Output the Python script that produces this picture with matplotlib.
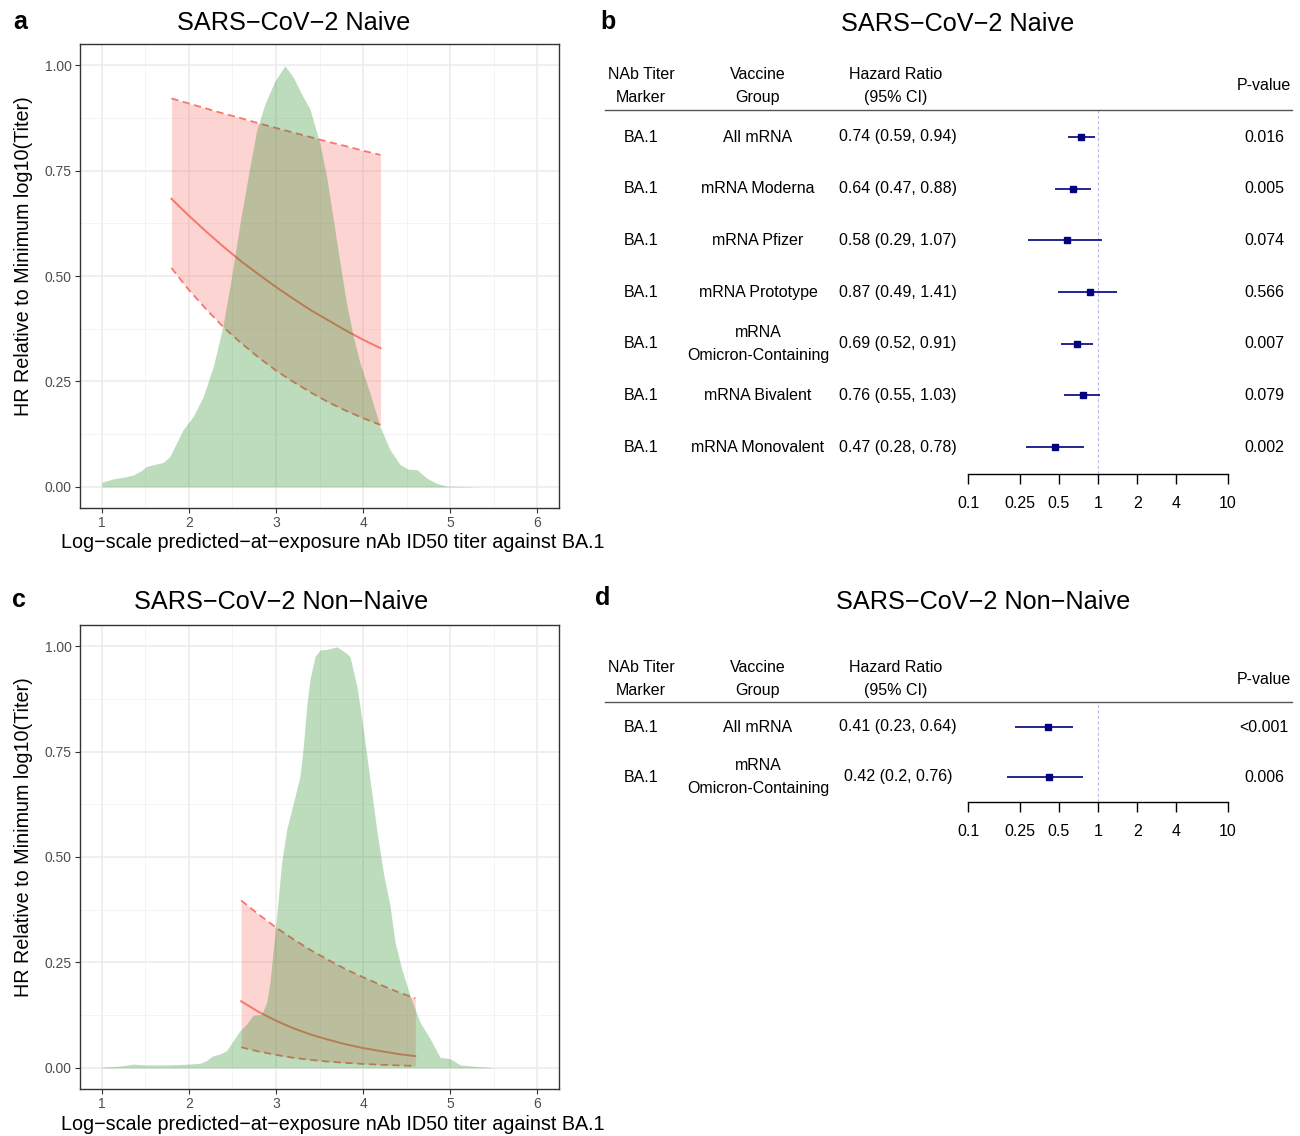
import numpy as np
import matplotlib
matplotlib.use("Agg")
import matplotlib.pyplot as plt
from matplotlib.ticker import FixedLocator, NullLocator
from matplotlib.transforms import blended_transform_factory

plt.rcParams['font.family'] = ['Liberation Sans', 'DejaVu Sans']

W, H = 1300, 1136
RED = "#F8766D"
GREEN = "forestgreen"
NAVY = "#000080"

# ---- panel a: naive, density of titers + HR curve ----
dens_a_x = [1.00, 1.13, 1.25, 1.36, 1.45, 1.51, 1.60, 1.705, 1.782, 1.858, 1.935,
            2.05, 2.165, 2.28, 2.39, 2.49, 2.586, 2.70, 2.778, 2.874, 2.99, 3.103,
            3.20, 3.295, 3.39, 3.506, 3.583, 3.66, 3.736, 3.81, 3.889, 3.966, 4.08,
            4.195, 4.31, 4.425, 4.52, 4.617, 4.73, 4.85, 4.96, 5.15, 5.34]
dens_a_y = [0.011, 0.019, 0.023, 0.028, 0.038, 0.048, 0.053, 0.058, 0.072, 0.104,
            0.136, 0.167, 0.214, 0.285, 0.380, 0.498, 0.624, 0.758, 0.845, 0.908,
            0.963, 0.998, 0.971, 0.931, 0.896, 0.813, 0.734, 0.632, 0.530, 0.435,
            0.356, 0.293, 0.222, 0.143, 0.088, 0.053, 0.042, 0.041, 0.021, 0.008,
            0.002, 0.001, 0.000]
band_a_x = [1.8, 2.0, 2.2, 2.4, 2.6, 2.8, 3.0, 3.2, 3.4, 3.6, 3.8, 4.0, 4.2]
band_a_hi = [0.921, 0.909, 0.897, 0.885, 0.874, 0.862, 0.851, 0.840, 0.829, 0.818,
             0.808, 0.797, 0.787]
band_a_mid = [0.683, 0.643, 0.605, 0.569, 0.535, 0.504, 0.474, 0.446, 0.419, 0.395,
              0.371, 0.349, 0.329]
band_a_lo = [0.519, 0.467, 0.421, 0.378, 0.341, 0.307, 0.276, 0.249, 0.224, 0.201,
             0.181, 0.163, 0.147]

# ---- panel c: non-naive ----
dens_c_x = [1.00, 1.20, 1.36, 1.50, 1.71, 2.00, 2.13, 2.20, 2.27, 2.356, 2.433, 2.51,
            2.586, 2.663, 2.739, 2.836, 2.893, 2.931, 2.97, 3.008, 3.065, 3.123, 3.20,
            3.276, 3.314, 3.353, 3.39, 3.448, 3.506, 3.583, 3.70, 3.81, 3.85, 3.93,
            4.004, 4.08, 4.157, 4.233, 4.31, 4.368, 4.445, 4.54, 4.655, 4.77, 4.885,
            5.00, 5.115, 5.27, 5.42, 5.50]
dens_c_y = [0.002, 0.004, 0.009, 0.007, 0.007, 0.009, 0.011, 0.017, 0.028, 0.033,
            0.041, 0.065, 0.088, 0.104, 0.125, 0.127, 0.155, 0.203, 0.281, 0.360,
            0.486, 0.565, 0.628, 0.691, 0.762, 0.857, 0.920, 0.975, 0.991, 0.992,
            0.998, 0.983, 0.975, 0.904, 0.801, 0.683, 0.565, 0.463, 0.384, 0.297,
            0.234, 0.171, 0.108, 0.069, 0.025, 0.022, 0.007, 0.004, 0.002, 0.000]
band_c_x = [2.6, 2.8, 3.0, 3.2, 3.4, 3.6, 3.8, 4.0, 4.2, 4.4, 4.6]
band_c_hi = [0.397, 0.364, 0.333, 0.305, 0.279, 0.256, 0.234, 0.215, 0.197, 0.180, 0.165]
band_c_mid = [0.158, 0.133, 0.112, 0.094, 0.079, 0.067, 0.056, 0.047, 0.040, 0.033, 0.028]
band_c_lo = [0.049, 0.039, 0.031, 0.024, 0.019, 0.015, 0.012, 0.0095, 0.0075, 0.006, 0.0047]

# ---- forest b ----
b_marker = ["BA.1"] * 7
b_group = ["All mRNA", "mRNA Moderna", "mRNA Pfizer", "mRNA Prototype",
           "mRNA\nOmicron-Containing", "mRNA Bivalent", "mRNA Monovalent"]
b_hr = [0.74, 0.64, 0.58, 0.87, 0.69, 0.76, 0.47]
b_lo = [0.59, 0.47, 0.29, 0.49, 0.52, 0.55, 0.28]
b_hi = [0.94, 0.88, 1.07, 1.41, 0.91, 1.03, 0.78]
b_hr_txt = ["0.74 (0.59, 0.94)", "0.64 (0.47, 0.88)", "0.58 (0.29, 1.07)",
            "0.87 (0.49, 1.41)", "0.69 (0.52, 0.91)", "0.76 (0.55, 1.03)",
            "0.47 (0.28, 0.78)"]
b_p = ["0.016", "0.005", "0.074", "0.566", "0.007", "0.079", "0.002"]

# ---- forest d ----
d_marker = ["BA.1"] * 2
d_group = ["All mRNA", "mRNA\nOmicron-Containing"]
d_hr = [0.41, 0.42]
d_lo = [0.23, 0.20]
d_hi = [0.64, 0.76]
d_hr_txt = ["0.41 (0.23, 0.64)", "0.42 (0.2, 0.76)"]
d_p = ["<0.001", "0.006"]

forest_ticks = [0.1, 0.25, 0.5, 1, 2, 4, 10]
forest_tick_labels = ["0.1", "0.25", "0.5", "1", "2", "4", "10"]


def px_axes(fig, left, top, right, bottom):
    return fig.add_axes([left / W, 1 - bottom / H, (right - left) / W, (bottom - top) / H])


def fig_text(fig, x, y, s, **kw):
    kw.setdefault("ha", "center")
    kw.setdefault("va", "center")
    return fig.text(x / W, 1 - y / H, s, **kw)


def draw_density(ax, dx, dy, bx, blo, bmid, bhi):
    ax.fill_between(bx, blo, bhi, color=RED, alpha=0.3, lw=0, zorder=2)
    ax.plot(bx, bhi, color=RED, lw=1.3, ls=(0, (4, 2.5)), zorder=3)
    ax.plot(bx, blo, color=RED, lw=1.3, ls=(0, (4, 2.5)), zorder=3)
    ax.plot(bx, bmid, color=RED, lw=1.4, zorder=3)
    # density drawn on top so the overlap shades the ribbon
    ax.fill_between(dx, 0, dy, color=GREEN, alpha=0.3, lw=0, zorder=4)

    ax.set_xlim(0.75, 6.25)
    ax.set_ylim(-0.05, 1.05)
    ax.xaxis.set_major_locator(FixedLocator([1, 2, 3, 4, 5, 6]))
    ax.xaxis.set_minor_locator(FixedLocator([1.5, 2.5, 3.5, 4.5, 5.5]))
    ax.yaxis.set_major_locator(FixedLocator([0, 0.25, 0.5, 0.75, 1.0]))
    ax.yaxis.set_minor_locator(FixedLocator([0.125, 0.375, 0.625, 0.875]))
    ax.set_yticklabels(["0.00", "0.25", "0.50", "0.75", "1.00"])
    ax.grid(which="major", color="#EBEBEB", lw=1.1, zorder=0)
    ax.grid(which="minor", color="#F2F2F2", lw=0.6, zorder=0)
    ax.set_axisbelow(True)
    ax.tick_params(which="major", length=3.6, width=0.8, color="#333333",
                   labelsize=10, labelcolor="#4D4D4D", pad=2.5)
    ax.tick_params(which="minor", length=0)
    for sp in ax.spines.values():
        sp.set_color("#333333")
        sp.set_linewidth(1.0)


def draw_forest(fig, top, bottom, row_px, header_y, markers, groups, hr, lo, hi, hr_txt, pvals):
    x0, x1 = 968, 1228
    n = len(hr)
    gap = row_px[1] - row_px[0]
    ax = px_axes(fig, x0, top, x1, bottom)
    ax.set_xscale("log")
    ax.set_xlim(0.1, 10)
    ax.set_ylim((bottom - row_px[0]) / gap, (top - row_px[0]) / gap)
    rows = np.arange(n)

    ax.axvline(1, color="#BDBDEA", lw=0.8, ls=(0, (3, 2)), zorder=1)
    ax.hlines(rows, lo, hi, color=NAVY, lw=1.2, zorder=2)
    ax.plot(hr, rows, "s", color=NAVY, ms=5, zorder=3)

    for side in ["top", "right", "left"]:
        ax.spines[side].set_visible(False)
    ax.spines["bottom"].set_linewidth(1.0)
    ax.set_yticks([])
    ax.set_xticks(forest_ticks)
    ax.set_xticklabels(forest_tick_labels)
    ax.xaxis.set_minor_locator(NullLocator())
    ax.tick_params(axis="x", direction="out", length=7, width=1.0, labelsize=11.5, pad=9)

    def ax_x(px):
        return (px - x0) / (x1 - x0)

    # header rule
    ax.plot([ax_x(605), ax_x(1292)], [1, 1], transform=ax.transAxes,
            color="#555555", lw=1.0, clip_on=False)

    trans = blended_transform_factory(ax.transAxes, ax.transData)
    for i in range(n):
        ax.text(ax_x(641), i, markers[i], transform=trans, ha="center", va="center", fontsize=11.5)
        ax.text(ax_x(758), i, groups[i], transform=trans, ha="center", va="center",
                fontsize=11.5, linespacing=1.67)
        ax.text(ax_x(898), i, hr_txt[i], transform=trans, ha="center", va="center", fontsize=11.5)
        ax.text(ax_x(1264), i, pvals[i], transform=trans, ha="center", va="center", fontsize=11.5)

    fig_text(fig, 641, header_y, "NAb Titer\nMarker", fontsize=11.5, linespacing=1.67)
    fig_text(fig, 758, header_y, "Vaccine\nGroup", fontsize=11.5, linespacing=1.67)
    fig_text(fig, 896, header_y, "Hazard Ratio\n(95% CI)", fontsize=11.5, linespacing=1.67)
    fig_text(fig, 1264, header_y, "P-value", fontsize=11.5)


fig = plt.figure(figsize=(13, 11.36), dpi=100)

ax_a = px_axes(fig, 80, 44, 559, 508)
draw_density(ax_a, dens_a_x, dens_a_y, band_a_x, band_a_lo, band_a_mid, band_a_hi)
ax_c = px_axes(fig, 80, 625, 559, 1089)
draw_density(ax_c, dens_c_x, dens_c_y, band_c_x, band_c_lo, band_c_mid, band_c_hi)

xlab = "Log\u2212scale predicted\u2212at\u2212exposure nAb ID50 titer against BA.1"
ylab = "HR Relative to Minimum log10(Titer)"
fig_text(fig, 333, 543, xlab, fontsize=14.2)
fig_text(fig, 333, 1124, xlab, fontsize=14.2)
fig_text(fig, 24, 256, ylab, fontsize=14.2, rotation=90)
fig_text(fig, 24, 837, ylab, fontsize=14.2, rotation=90)

draw_forest(fig, 110, 474, [137, 188.67], 86, b_marker, b_group, b_hr, b_lo, b_hi, b_hr_txt, b_p)
draw_forest(fig, 702, 802, [727, 777], 679, d_marker, d_group, d_hr, d_lo, d_hi, d_hr_txt, d_p)

fig_text(fig, 294, 23, "SARS\u2212CoV\u22122 Naive", fontsize=18.2)
fig_text(fig, 958, 24, "SARS\u2212CoV\u22122 Naive", fontsize=18.2)
fig_text(fig, 281, 602, "SARS\u2212CoV\u22122 Non\u2212Naive", fontsize=18.2)
fig_text(fig, 983, 602, "SARS\u2212CoV\u22122 Non\u2212Naive", fontsize=18.2)

for letter, x, y in [("a", 20, 22), ("b", 608, 22), ("c", 19, 600), ("d", 603, 598)]:
    fig_text(fig, x, y, letter, fontsize=18, fontweight="bold")

fig.savefig("out.png", dpi=100)
